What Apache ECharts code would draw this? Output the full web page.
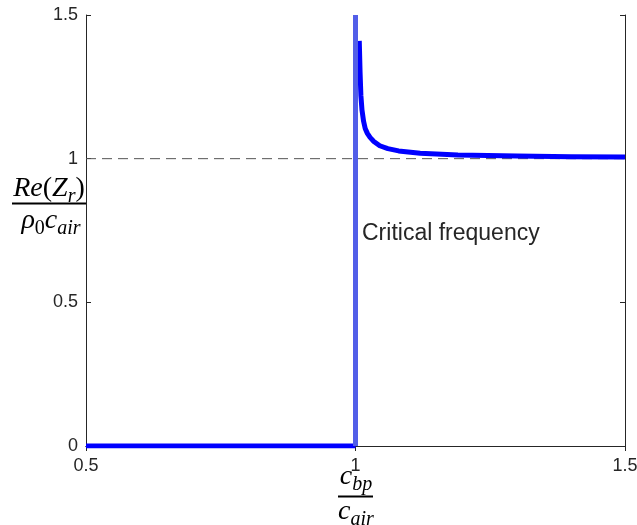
<!doctype html>
<html lang="en">
  <head>
    <meta charset="UTF-8" />
    <title>Radiation efficiency</title>
    <script src="https://cdn.jsdelivr.net/npm/echarts@6/dist/echarts.min.js"></script>
    <style>
      html, body { margin: 0; padding: 0; background: #fff; }
      #chart { width: 637px; height: 525px; }
    </style>
  </head>
  <body>
    <div id="chart"></div>
    <script>
      // axis ticks
      const xTicks = [0.5, 1, 1.5];
      const yTicks = [0, 0.5, 1, 1.5];

      // below critical frequency: no radiation
      const belowX = [0.5, 1];
      const belowY = [0, 0];

      // above critical frequency
      const aboveX = [1.007, 1.0085, 1.01, 1.012, 1.015, 1.018, 1.022, 1.027, 1.034, 1.045, 1.06, 1.08, 1.12, 1.19, 1.3, 1.4, 1.5];
      const aboveY = [1.41, 1.3, 1.22, 1.17, 1.13, 1.105, 1.088, 1.074, 1.06, 1.045, 1.035, 1.027, 1.019, 1.013, 1.009, 1.007, 1.006];

      // critical frequency marker and unit reference
      const criticalX = 1;
      const referenceY = 1;

      const zip = (xs, ys) => xs.map((x, i) => [x, ys[i]]);

      const axisColor = '#262626';
      const mathFont = '"Liberation Serif", "DejaVu Serif", serif';
      const sansFont = '"Liberation Sans", Arial, sans-serif';

      const mathRich = {
        m: { fontFamily: mathFont, fontStyle: 'italic', fontSize: 28, color: '#000', padding: [0, 0, 4, 0], verticalAlign: 'bottom' },
        n: { fontFamily: mathFont, fontSize: 28, color: '#000', padding: [0, 0, 4, 0], verticalAlign: 'bottom' },
        s: { fontFamily: mathFont, fontStyle: 'italic', fontSize: 20, color: '#000', verticalAlign: 'bottom' },
        t: { fontFamily: mathFont, fontSize: 20, color: '#000', verticalAlign: 'bottom' }
      };

      const chart = echarts.init(document.getElementById('chart'), null, { renderer: 'canvas' });

      const baseAxis = {
        type: 'value',
        interval: 0.5,
        axisLine: { show: true, lineStyle: { color: axisColor, width: 1 } },
        axisTick: { show: true, inside: true, length: 5, lineStyle: { color: axisColor } },
        splitLine: { show: false },
        axisLabel: { color: axisColor, fontFamily: sansFont, fontSize: 18 }
      };

      const option = {
        animation: false,
        grid: { left: 86, right: 12, top: 15, bottom: 79, show: false, containLabel: false, outerBoundsMode: 'none' },
        xAxis: [
          Object.assign({}, baseAxis, {
            min: xTicks[0], max: xTicks[xTicks.length - 1],
            axisLabel: Object.assign({}, baseAxis.axisLabel, { margin: 11 })
          }),
          Object.assign({}, baseAxis, {
            position: 'top',
            min: xTicks[0], max: xTicks[xTicks.length - 1],
            axisLabel: { show: false }
          })
        ],
        yAxis: [
          Object.assign({}, baseAxis, {
            min: yTicks[0], max: yTicks[yTicks.length - 1],
            axisLabel: Object.assign({}, baseAxis.axisLabel, { margin: 8 })
          }),
          Object.assign({}, baseAxis, {
            position: 'right',
            min: yTicks[0], max: yTicks[yTicks.length - 1],
            axisLabel: { show: false }
          })
        ],
        series: [
          {
            name: 'reference',
            type: 'line',
            data: [[xTicks[0], referenceY], [xTicks[xTicks.length - 1], referenceY]],
            symbol: 'none',
            lineStyle: { color: '#555', width: 1, type: [10, 6] },
            silent: true,
            z: 1
          },
          {
            name: 'below',
            type: 'line',
            data: zip(belowX, belowY),
            symbol: 'none',
            lineStyle: { color: '#0000ff', width: 5, cap: 'butt' },
            z: 2
          },
          {
            name: 'above',
            type: 'line',
            data: zip(aboveX, aboveY),
            symbol: 'none',
            smooth: false,
            lineStyle: { color: '#0000ff', width: 5, cap: 'butt', join: 'round' },
            z: 3
          },
          {
            name: 'critical',
            type: 'line',
            data: [[criticalX, yTicks[0]], [criticalX, yTicks[yTicks.length - 1]]],
            symbol: 'none',
            lineStyle: { color: '#525ee8', width: 5, cap: 'butt' },
            z: 4
          }
        ],
        graphic: [
          {
            type: 'text',
            left: 362,
            top: 222,
            style: { text: 'Critical frequency', fontFamily: sansFont, fontSize: 23, fill: '#262626' }
          },
          // y axis title: Re(Z_r) / (rho_0 c_air)
          {
            type: 'text',
            x: 49, y: 207,
            style: { text: '{m|Re}{n|(}{m|Z}{s|r}{n|)}', rich: mathRich, align: 'center', verticalAlign: 'bottom' }
          },
          {
            type: 'line',
            shape: { x1: 12, y1: 203.5, x2: 86, y2: 203.5 },
            style: { stroke: '#000', lineWidth: 2 }
          },
          {
            type: 'text',
            x: 51, y: 239,
            style: { text: '{m|ρ}{t|0}{m|c}{s|air}', rich: mathRich, align: 'center', verticalAlign: 'bottom' }
          },
          // x axis title: c_bp / c_air
          {
            type: 'text',
            x: 356, y: 495,
            style: { text: '{m|c}{s|bp}', rich: mathRich, align: 'center', verticalAlign: 'bottom' }
          },
          {
            type: 'line',
            shape: { x1: 338, y1: 496.5, x2: 373, y2: 496.5 },
            style: { stroke: '#000', lineWidth: 2 }
          },
          {
            type: 'text',
            x: 356, y: 530,
            style: { text: '{m|c}{s|air}', rich: mathRich, align: 'center', verticalAlign: 'bottom' }
          }
        ]
      };

      chart.setOption(option);
    </script>
  </body>
</html>
